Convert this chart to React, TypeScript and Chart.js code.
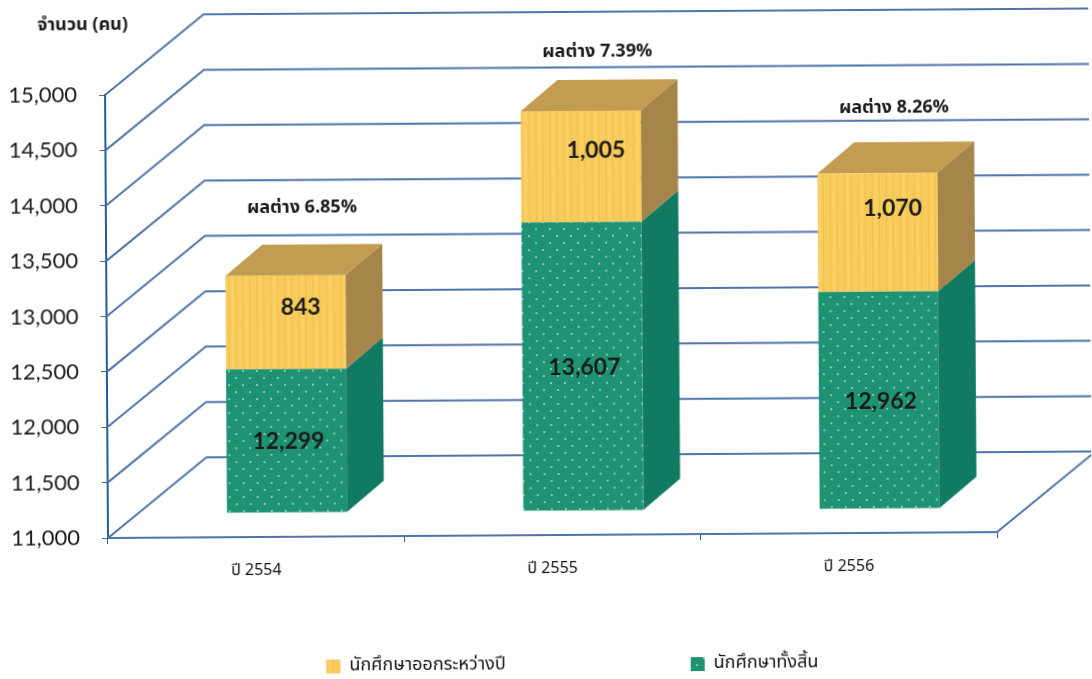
import React, { useEffect, useRef } from "react";
import { Chart, registerables } from "chart.js";

Chart.register(...registerables);

const categories = ["ปี 2554", "ปี 2555", "ปี 2556"];
const totalStudents = [12299, 13607, 12962];
const dropouts = [843, 1005, 1070];
const differenceLabels = ["ผลต่าง 6.85%", "ผลต่าง 7.39%", "ผลต่าง 8.26%"];
const yTicks = [11000, 11500, 12000, 12500, 13000, 13500, 14000, 14500, 15000];
const seriesNames = ["นักศึกษาทั้งสิ้น", "นักศึกษาออกระหว่างปี"];
const unitLabel = "จำนวน (คน)";

const THAI = '"Noto Sans Thai", "Noto Sans", "DejaVu Sans", "Liberation Sans", sans-serif';
const NUM = 'Lato, "Open Sans", sans-serif';

function makePattern(base: string, kind: "dots" | "stripes") {
  const c = document.createElement("canvas");
  c.width = 14;
  c.height = 14;
  const g = c.getContext("2d")!;
  g.fillStyle = base;
  g.fillRect(0, 0, 14, 14);
  if (kind === "dots") {
    g.fillStyle = "rgba(190,235,215,0.6)";
    g.fillRect(2, 3, 2, 2);
    g.fillRect(9, 10, 2, 2);
  } else {
    g.fillStyle = "rgba(240,185,40,0.55)";
    g.fillRect(3, 0, 1, 14);
    g.fillRect(10, 0, 1, 14);
    g.fillStyle = "rgba(255,225,130,0.3)";
    g.fillRect(6, 0, 2, 14);
  }
  return g.createPattern(c, "repeat")!;
}

const FRONT_DX = 31;
const FRONT_DY = -24;
const BAR_DX = 37;
const BAR_DY = -31;
const WALL_DX = 99;
const WALL_DY = -80;
const GRID = "#4f74a8";
const LEGEND_GAP = 185;

function poly(ctx: CanvasRenderingContext2D, pts: number[][], fill: string) {
  ctx.beginPath();
  pts.forEach((p, i) => (i ? ctx.lineTo(p[0], p[1]) : ctx.moveTo(p[0], p[1])));
  ctx.closePath();
  ctx.fillStyle = fill;
  ctx.fill();
}

const depthPlugin = {
  id: "depth",
  beforeLayout(chart: any) {
    const lg = chart.legend;
    if (!lg._fitPatched) {
      const fit = lg.fit.bind(lg);
      lg.fit = () => {
        fit();
        lg.height = 35;
      };
      lg._fitPatched = true;
    }
  },
  afterLayout(chart: any) {
    const lg = chart.legend;
    lg.left += 73;
    lg.right += 73;
    lg.top = 659 - LEGEND_GAP;
    lg.bottom = 679;
  },
  beforeDatasetsDraw(chart: any) {
    const { ctx, chartArea: a, scales } = chart;
    const y = scales.y;
    ctx.save();
    ctx.strokeStyle = GRID;
    ctx.lineWidth = 2;
    yTicks.forEach((v) => {
      const p = y.getPixelForValue(v);
      ctx.beginPath();
      ctx.moveTo(a.left, p);
      ctx.lineTo(a.left + WALL_DX, p + WALL_DY);
      ctx.lineTo(a.right + WALL_DX + 10, p + WALL_DY);
      ctx.stroke();
    });
    ctx.beginPath();
    ctx.moveTo(a.left, a.bottom);
    ctx.lineTo(a.right, a.bottom);
    ctx.lineTo(a.right + WALL_DX, a.bottom + WALL_DY);
    ctx.stroke();
    ctx.restore();

    ctx.save();
    ctx.translate(FRONT_DX, FRONT_DY);
    const sides = ["#107a63", "#a5854a"];
    const tops = ["#107a63", "#c29c50"];
    chart.data.datasets.forEach((_: any, di: number) => {
      chart.getDatasetMeta(di).data.forEach((bar: any) => {
        const l = bar.x - bar.width / 2;
        const r = bar.x + bar.width / 2;
        poly(ctx, [[r, bar.y], [r + BAR_DX, bar.y + BAR_DY], [r + BAR_DX, bar.base + BAR_DY], [r, bar.base]], sides[di]);
        if (di === chart.data.datasets.length - 1) {
          poly(ctx, [[l, bar.y], [l + BAR_DX, bar.y + BAR_DY], [r + BAR_DX, bar.y + BAR_DY], [r, bar.y]], tops[di]);
        }
      });
    });
  },
  afterDatasetsDraw(chart: any) {
    const { ctx, scales } = chart;
    ctx.restore();
    const y = scales.y;
    const lower = chart.getDatasetMeta(0).data;
    const upper = chart.getDatasetMeta(1).data;
    const upperShift = [-16, -17, -25];
    const diffShift = [-70, -62, -68];
    ctx.save();
    ctx.textAlign = "center";
    ctx.textBaseline = "middle";
    ctx.fillStyle = "#1a1a1a";
    ctx.font = `bold 23px ${NUM}`;
    lower.forEach((bar: any, i: number) => {
      const mid = (y.getPixelForValue(11000) + y.getPixelForValue(totalStudents[i])) / 2;
      ctx.fillText(totalStudents[i].toLocaleString("en-US"), bar.x + FRONT_DX + 2, mid + FRONT_DY + 1);
    });
    upper.forEach((bar: any, i: number) => {
      const mid = (bar.y + bar.base) / 2;
      ctx.fillText(dropouts[i].toLocaleString("en-US"), bar.x + FRONT_DX + 15, mid + FRONT_DY + upperShift[i] + 1);
    });
    ctx.font = `bold 18px ${THAI}`;
    upper.forEach((bar: any, i: number) => {
      ctx.fillText(differenceLabels[i], bar.x + FRONT_DX + 17, bar.y + FRONT_DY + diffShift[i] + 4);
    });
    ctx.font = `bold 18px ${THAI}`;
    ctx.fillText(unitLabel, 86, 26);
    ctx.restore();
  },
};

export default function App() {
  const ref = useRef<HTMLCanvasElement>(null);
  useEffect(() => {
    const chart = new Chart(ref.current!, {
      type: "bar",
      plugins: [depthPlugin],
      data: {
        labels: categories,
        datasets: [
          {
            label: seriesNames[0],
            data: totalStudents,
            base: yTicks[0],
            backgroundColor: makePattern("#1e9272", "dots"),
            categoryPercentage: 1,
            barPercentage: 0.405,
            clip: false,
          },
          {
            label: seriesNames[1],
            data: dropouts,
            backgroundColor: makePattern("#f7cb5e", "stripes"),
            categoryPercentage: 1,
            barPercentage: 0.405,
            clip: false,
          },
        ],
      },
      options: {
        animation: false,
        responsive: false,
        layout: { padding: { top: 95, right: 95, left: 0, bottom: 0 } },
        plugins: {
          tooltip: { enabled: false },
          legend: {
            position: "bottom",
            reverse: true,
            labels: {
              boxWidth: 14,
              boxHeight: 14,
              padding: LEGEND_GAP,
              color: "#111",
              font: { family: THAI, size: 18 },
            },
          },
        },
        scales: {
          x: {
            stacked: true,
            grid: { display: true, drawOnChartArea: false, drawTicks: true, tickLength: 6, color: "#2f5f96", offset: true },
            border: { color: GRID, width: 2 },
            ticks: { color: "#111", font: { family: THAI, size: 16 }, padding: 19, maxRotation: 0 },
            afterFit(s: any) {
              s.height = 106;
            },
          },
          y: {
            stacked: true,
            min: 11000,
            max: 15000,
            grid: { display: true, drawOnChartArea: false, tickLength: 6, color: "#4a6a90" },
            border: { color: "#1f5f96", width: 2 },
            ticks: {
              stepSize: 500,
              color: "#1a1a1a",
              font: { family: NUM, size: 22 },
              padding: 22,
              callback: (v: any) => Number(v).toLocaleString("en-US"),
            },
            afterFit(s: any) {
              s.width = 108;
            },
          },
        },
      },
    } as any);
    return () => chart.destroy();
  }, []);
  return (
    <canvas
      ref={ref}
      width={1092}
      height={679}
      style={{
        position: "absolute",
        left: 0,
        top: 0,
        width: 1092,
        height: 679,
        transform: "rotate(-0.38deg)",
        transformOrigin: "108px 538px",
      }}
    />
  );
}
